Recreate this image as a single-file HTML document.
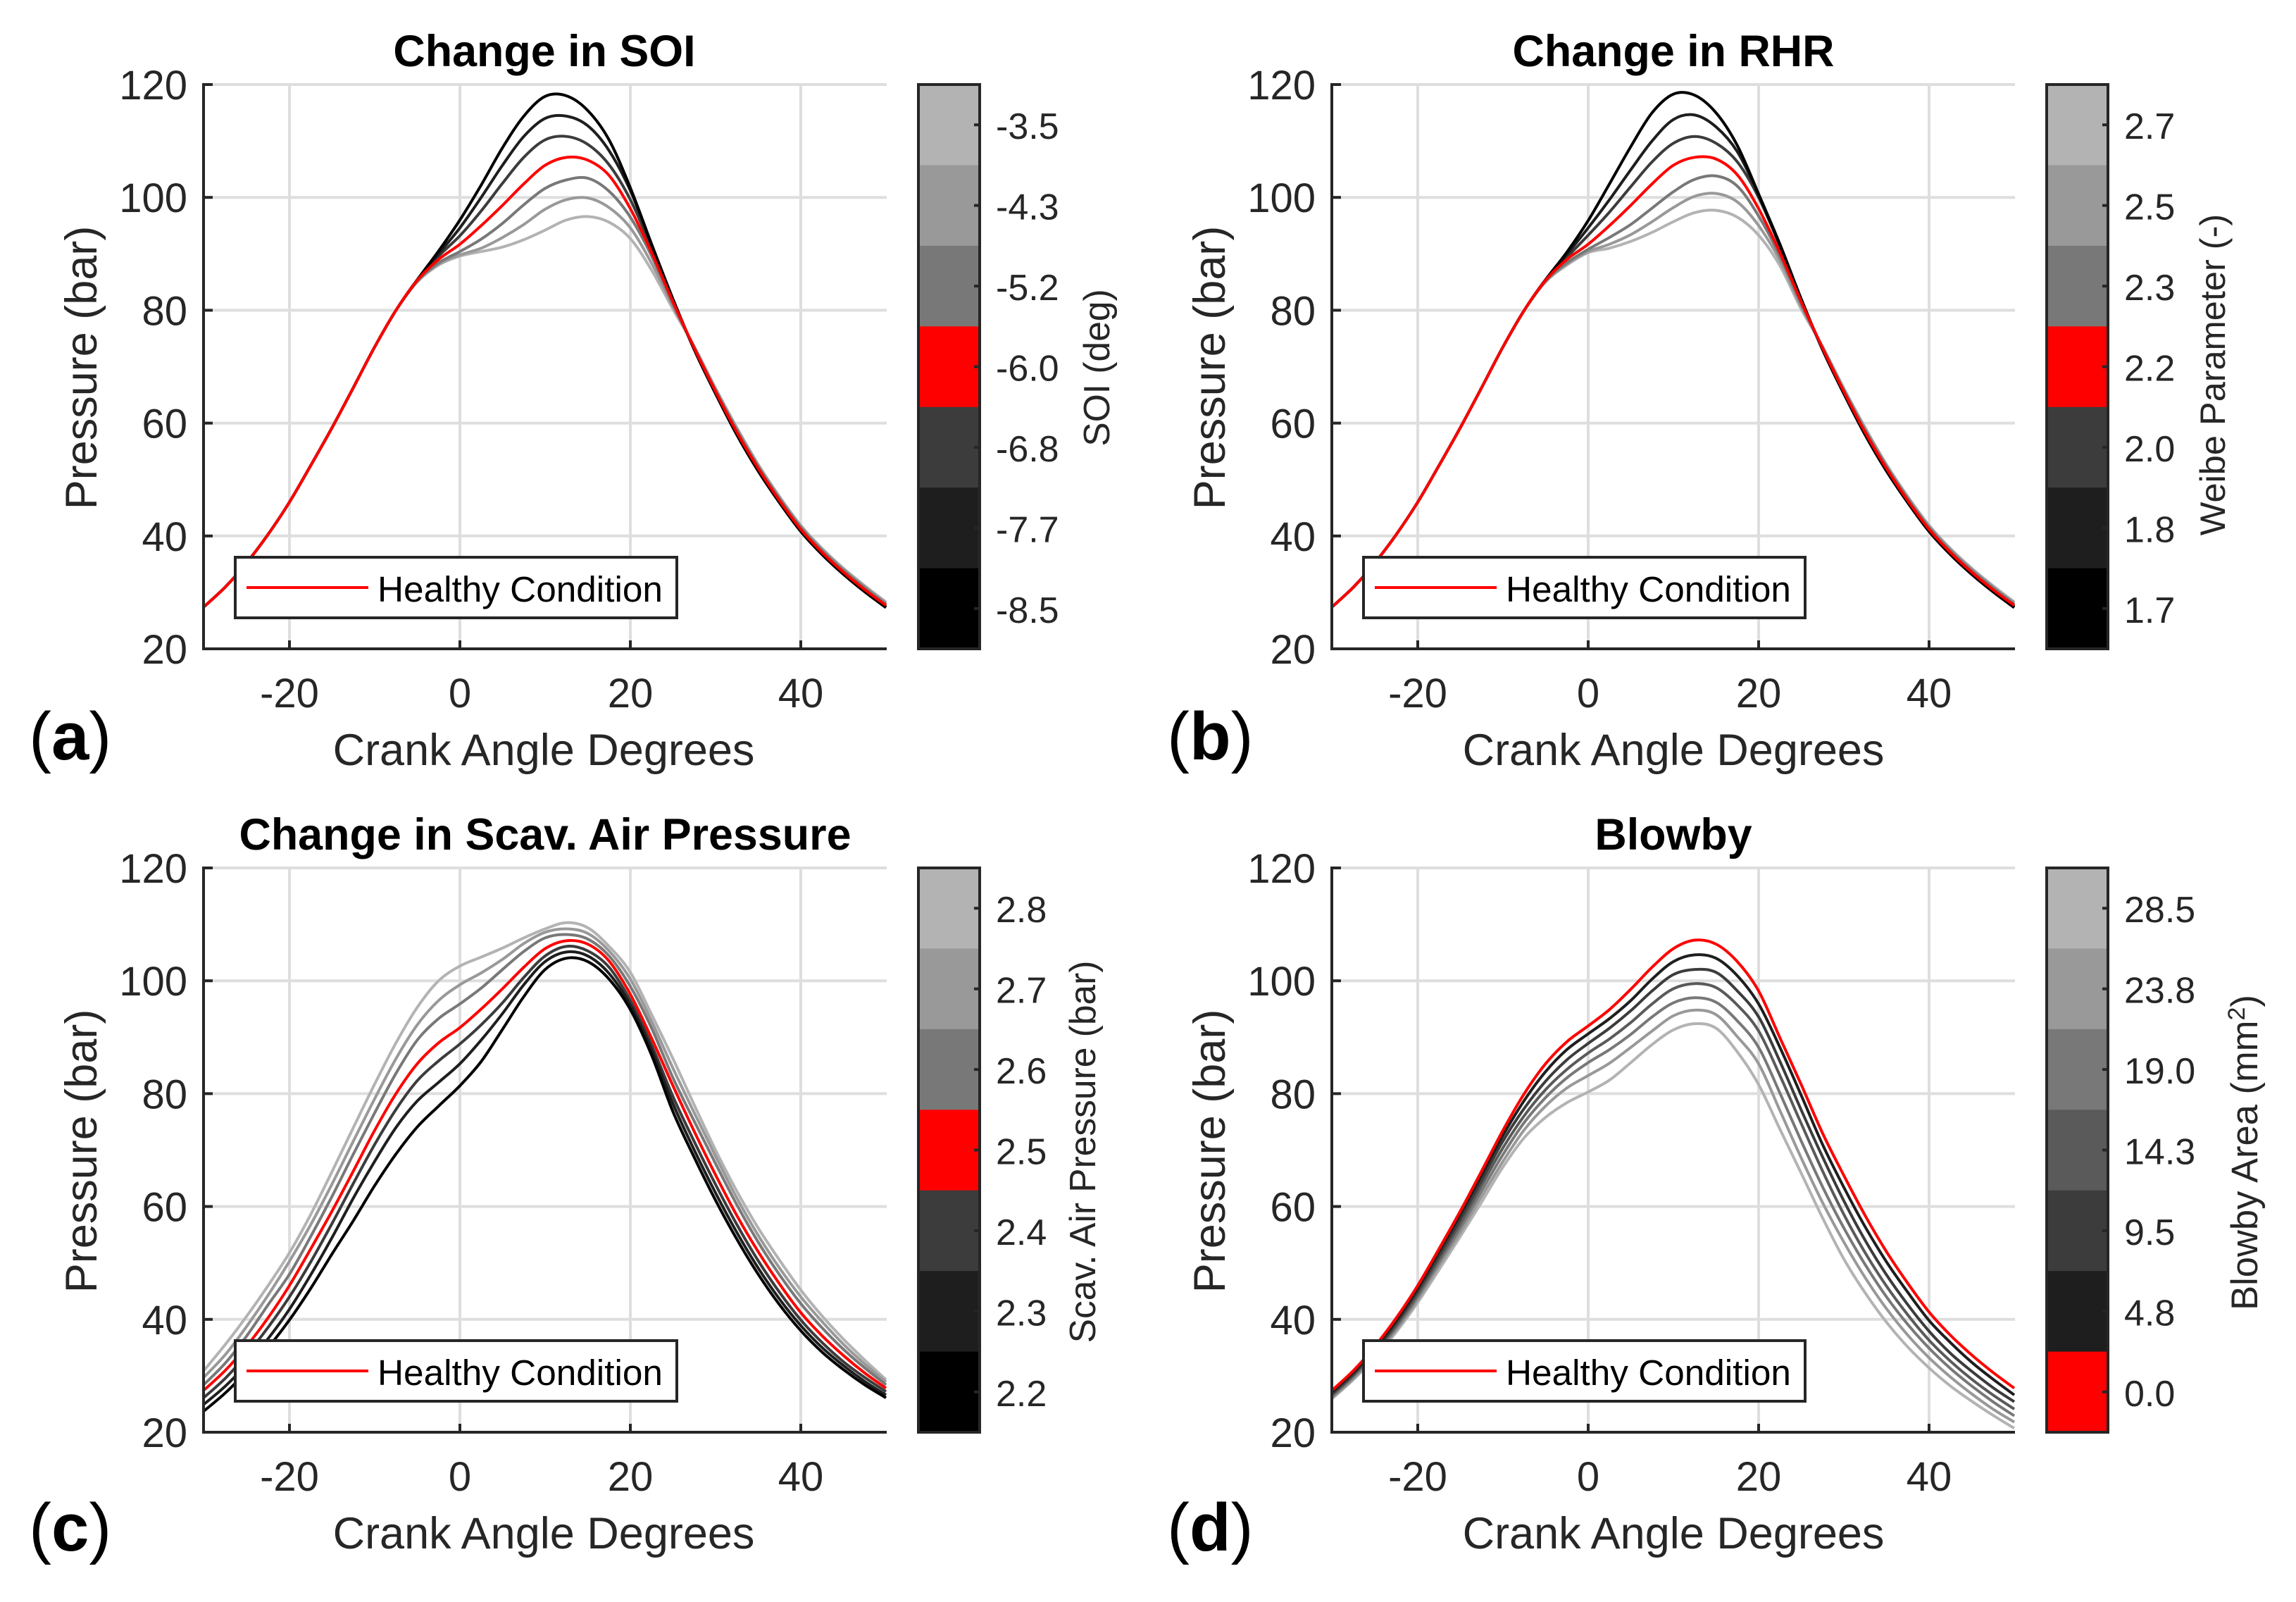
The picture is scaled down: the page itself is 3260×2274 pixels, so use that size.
<!DOCTYPE html>
<html lang="en">
<head>
<meta charset="utf-8">
<title>Pressure curves</title>
<style>
html,body{margin:0;padding:0;background:#fff;}
svg{display:block;font-family:"Liberation Sans",Arial,sans-serif;}
text{fill:#262626;}
.title{font-size:62.8px;font-weight:bold;fill:#000;text-anchor:middle;}
.axl{font-size:63px;text-anchor:middle;}
.cbl{font-size:51.5px;text-anchor:middle;}
.tick{font-size:58px;}
.cbt{font-size:52px;}
.leg{font-size:51.3px;fill:#000;}
.pl{font-size:96px;fill:#000;}
</style>
</head>
<body>
<svg id="fig" xmlns="http://www.w3.org/2000/svg" width="3260" height="2274" viewBox="0 0 3260 2274">
<rect width="3260" height="2274" fill="#fff"/>
<g id="plots"></g>

<text class="title" x="773" y="94">Change in SOI</text>
<text class="title" x="2376" y="94">Change in RHR</text>
<text class="title" x="774" y="1206">Change in Scav. Air Pressure</text>
<text class="title" x="2376" y="1206">Blowby</text>

<text class="axl" x="772" y="1086">Crank Angle Degrees</text>
<text class="axl" x="2376" y="1086">Crank Angle Degrees</text>
<text class="axl" x="772" y="2198">Crank Angle Degrees</text>
<text class="axl" x="2376" y="2198">Crank Angle Degrees</text>

<text class="axl" transform="translate(137 522) rotate(-90)">Pressure (bar)</text>
<text class="axl" transform="translate(1739 522) rotate(-90)">Pressure (bar)</text>
<text class="axl" transform="translate(137 1634) rotate(-90)">Pressure (bar)</text>
<text class="axl" transform="translate(1739 1634) rotate(-90)">Pressure (bar)</text>

<text class="cbl" transform="translate(1575 522) rotate(-90)">SOI (deg)</text>
<text class="cbl" font-size="50.5" style="font-size:50.5px" transform="translate(3159 532) rotate(-90)">Weibe Parameter (-)</text>
<text class="cbl" transform="translate(1555 1635) rotate(-90)">Scav. Air Pressure (bar)</text>
<text class="cbl" style="font-size:52.5px" transform="translate(3205 1636) rotate(-90)">Blowby Area (mm<tspan dy="-18" font-size="34">2</tspan><tspan dy="18">)</tspan></text>

<text class="pl" x="41" y="1078">(<tspan font-weight="bold">a</tspan>)</text>
<text class="pl" x="1657" y="1078">(<tspan font-weight="bold">b</tspan>)</text>
<text class="pl" x="41" y="2201">(<tspan font-weight="bold">c</tspan>)</text>
<text class="pl" x="1657" y="2201">(<tspan font-weight="bold">d</tspan>)</text>
</svg>

<script>
// ---------- shared axis data ----------
const crankAngles = [-30,-27.5,-25,-22.5,-20,-17.5,-15,-12.5,-10,-7.5,-5,-2.5,0,2.5,5,7.5,10,12.5,15,17.5,20,22.5,25,27.5,30,32.5,35,37.5,40,42.5,45,47.5,50];
const xTickValues = [-20,0,20,40];
const yTickValues = [20,40,60,80,100,120];

// ---------- panel (a): change in SOI ----------
const soiTickLabels = ["-3.5","-4.3","-5.2","-6.0","-6.8","-7.7","-8.5"];
const soiMinus35 = [27.5,31,35.3,40.3,46,52.5,59.2,66.3,73.5,80,85,88,89.6,90.4,91.2,92.5,94.2,96,96.6,95.6,92.7,87.1,80.2,73.6,66.2,59.2,52.7,47,41.9,37.8,34.3,31.2,28.3];
const soiMinus43 = [27.5,31,35.3,40.3,46,52.5,59.2,66.3,73.5,80,85.1,88.2,89.8,91,92.9,95.2,97.9,99.6,99.9,98.2,94.6,88.3,80.7,73.5,66,59,52.5,46.8,41.7,37.6,34.1,31,28.1];
const soiMinus52 = [27.5,31,35.3,40.3,46,52.5,59.2,66.3,73.5,80,85.2,88.4,90.4,92.6,95.4,98.7,101.6,103.1,103.4,101.1,96.5,89.6,81.1,73.4,65.8,58.7,52.3,46.6,41.5,37.4,33.9,30.8,27.9];
const soiMinus60 = [27.5,31,35.3,40.3,46,52.5,59.2,66.3,73.5,80,85.3,89,91.7,95,98.6,102.4,105.7,107.1,106.6,103.9,98,90.2,81.5,73.3,65.6,58.4,52,46.3,41.2,37.1,33.6,30.5,27.7];
const soiMinus68 = [27.5,31,35.3,40.3,46,52.5,59.2,66.3,73.5,80,85.4,89.6,93.2,97.6,102.5,107.1,110.2,110.8,109.4,105.8,99.6,91,81.8,73.2,65.5,58.2,51.8,46.1,41,36.9,33.4,30.3,27.5];
const soiMinus77 = [27.5,31,35.3,40.3,46,52.5,59.2,66.3,73.5,80,85.4,90,94.6,100,105.7,110.8,114,114.4,112.7,108.3,101.2,91.5,81.9,73.1,65.4,58.1,51.7,46,40.9,36.8,33.3,30.2,27.4];
const soiMinus85 = [27.5,31,35.3,40.3,46,52.5,59.2,66.3,73.5,80,85.4,90.5,96,102.2,108.8,114.4,117.9,118,115.4,110.2,101.7,91.7,82,73,65.2,57.9,51.5,45.9,40.8,36.7,33.2,30.1,27.3];

// ---------- panel (b): change in RHR ----------
const weibeTickLabels = ["2.7","2.5","2.3","2.2","2.0","1.8","1.7"];
const weibe27 = [27.5,31,35.3,40.3,46,52.5,59.2,66.3,73.5,80,85,88,90.2,91,92.2,93.8,95.7,97.3,97.7,96.5,93.3,87.9,80.2,73.6,66.2,59.2,52.7,47,41.9,37.8,34.3,31.2,28.3];
const weibe25 = [27.5,31,35.3,40.3,46,52.5,59.2,66.3,73.5,80,85.1,88.2,90.4,91.7,93.4,95.7,98.2,100.2,100.7,99.2,95,88.8,80.7,73.5,66,59,52.5,46.8,41.7,37.6,34.1,31,28.1];
const weibe23 = [27.5,31,35.3,40.3,46,52.5,59.2,66.3,73.5,80,85.2,88.4,90.8,92.9,95.2,98.1,101,103.2,103.8,102,96.7,89.6,81.1,73.4,65.8,58.7,52.3,46.6,41.5,37.4,33.9,30.8,27.9];
const weibe22 = [27.5,31,35.3,40.3,46,52.5,59.2,66.3,73.5,80,85.3,89,91.7,95,98.6,102.4,105.7,107.1,106.8,104,98,90.2,81.5,73.3,65.6,58.4,52,46.3,41.2,37.1,33.6,30.5,27.7];
const weibe20 = [27.5,31,35.3,40.3,46,52.5,59.2,66.3,73.5,80,85.4,89.4,93.3,97.4,101.9,106.3,109.6,110.8,109.6,106.3,100,91.3,81.8,73.2,65.5,58.2,51.8,46.1,41,36.9,33.4,30.3,27.5];
const weibe18 = [27.5,31,35.3,40.3,46,52.5,59.2,66.3,73.5,80,85.4,89.9,94.6,99.6,104.9,110,113.8,114.6,112.5,108.1,100.4,91.5,81.9,73.1,65.4,58.1,51.7,46,40.9,36.8,33.3,30.2,27.4];
const weibe17 = [27.5,31,35.3,40.3,46,52.5,59.2,66.3,73.5,80,85.4,90.3,95.9,102.4,109,115,118.3,118.1,115,109.2,100.6,91.7,82,73,65.2,57.9,51.5,45.9,40.8,36.7,33.2,30.1,27.3];

// ---------- panel (c): change in scavenge air pressure ----------
const scavTickLabels = ["2.8","2.7","2.6","2.5","2.4","2.3","2.2"];
const scav28 = [31,35.6,40.6,46,51.8,58.6,66.2,74,81.7,89,95.3,100,102.6,104.2,105.8,107.6,109.2,110.3,109.4,106.1,101.5,94,86.2,78,70,62.7,56.2,50.5,45.2,40.6,36.5,32.8,29.3];
const scav27 = [29.8,33.8,38.8,44.3,50.3,56.8,64,71.6,79.1,86.2,92.2,96.5,99.3,101.4,103.8,106.6,108.6,109.2,108.4,105.3,100.3,92.8,84.5,76.6,68.9,61.5,54.9,49.1,44,39.6,35.6,32.1,28.9];
const scav26 = [28.5,32.3,37.1,42.6,48,54.7,61.8,69.3,76.6,83.6,89.5,93.3,95.9,98.7,102,105.2,107.6,108.2,107.4,104.4,99,91.6,82.8,75.1,67.6,60.3,53.7,47.9,42.8,38.5,34.7,31.4,28.4];
const scav25 = [27.5,31,35.3,40.3,46,52.5,59.2,66.3,73.5,80,85.3,89,91.7,95,98.6,102.4,105.7,107.1,106.5,103.5,97.6,89.8,81.4,73.3,65.6,58.4,52,46.3,41.2,37.1,33.6,30.5,27.8];
const scav24 = [26.2,29.6,33.8,38.6,44,50.2,57,64.1,71,77.2,82.3,85.8,88.8,92.2,96.1,100.6,104.4,106.1,105.3,102.4,96.5,88.6,79.5,71.5,63.9,56.8,50.4,44.8,39.9,35.9,32.5,29.7,27.2];
const scav23 = [25,28.2,32.1,36.6,41.8,47.9,54.5,61.5,68,74,78.7,82,85.3,89.5,94.2,99.3,103.4,105.1,104.4,101.3,95.7,87.8,78.2,70,62.4,55.4,49.1,43.6,38.9,35,31.8,29,26.6];
const scav22 = [23.8,27,30.8,35,39.9,45.5,51.6,57.5,63.7,69.3,74.1,77.8,81.4,85.7,91.4,97.2,102,104,103.4,100.3,94.9,86.8,76.8,68.7,61.1,54.2,48,42.6,38,34.2,31.1,28.4,26.1];

// ---------- panel (d): blowby ----------
const blowbyTickLabels = ["28.5","23.8","19.0","14.3","9.5","4.8","0.0"];
const blowby285 = [26,29.4,33.3,37.8,43,48.8,54.7,60.8,67,72.2,75.8,78.4,80.3,82.4,85.5,88.7,91.3,92.4,91.6,87.4,81.6,73.7,65.9,58,50.7,44.7,39.5,35.1,31.4,28.2,25.5,23,20.7];
const blowby238 = [26.2,29.6,33.7,38.2,43.5,49.5,55.4,61.8,68,73.6,77.8,81,83.2,85.4,88.2,91.1,93.8,94.8,94,90.1,85.3,77,68.6,60.7,53.7,47.4,41.9,37.2,33.2,29.8,26.8,24.1,21.8];
const blowby190 = [26.4,29.9,34,38.6,44,50.1,56.2,62.8,69.2,74.9,79.3,82.8,85.5,87.8,90.5,93.6,96.1,97,96.2,92.9,88.2,80.1,71.6,63.5,56.2,49.7,44,39.1,34.9,31.3,28.2,25.4,22.9];
const blowby143 = [26.7,30.2,34.3,39,44.5,50.7,57,63.8,70.4,76.1,80.7,84.3,87.2,89.7,92.6,95.9,98.6,99.5,98.8,95.7,91.1,83.2,74.7,66.3,58.6,51.8,45.9,40.8,36.3,32.6,29.4,26.6,24.1];
const blowby95 = [26.9,30.4,34.6,39.4,45,51.3,57.8,64.7,71.6,77.4,82.2,86,88.9,91.6,94.7,98.2,101.1,102,101.5,98.2,93.6,85.7,77.1,68.8,61,54,47.9,42.6,37.9,34,30.8,27.9,25.4];
const blowby48 = [27.2,30.7,34.9,39.8,45.5,52,58.6,65.6,72.6,78.8,83.9,87.8,90.6,93.3,96.5,100.3,103.4,104.6,104,100.9,95.9,88.2,79.7,71,63.4,56.4,50.2,44.8,39.8,35.9,32.4,29.4,26.6];
const blowby00 = [27.5,31,35.3,40.3,46,52.5,59.2,66.3,73.5,80,85.3,89.2,92,94.9,98.5,102.4,105.7,107.2,106.5,103.4,98.2,89.9,81.6,73,65.5,58.4,52,46.4,41.3,37.2,33.7,30.6,27.8];

// ---------- colours (colorbar top to bottom) ----------
const greysWithRedMiddle = ["#b3b3b3","#999999","#787878","#ff0000","#3c3c3c","#1e1e1e","#000000"];
const greysWithRedBottom = ["#b3b3b3","#999999","#787878","#5a5a5a","#3c3c3c","#1e1e1e","#ff0000"];

const panels = [
  {id:"a", dx:0, dy:0, labels:soiTickLabels, colors:greysWithRedMiddle,
   series:[soiMinus35,soiMinus43,soiMinus52,soiMinus60,soiMinus68,soiMinus77,soiMinus85]},
  {id:"b", dx:1602, dy:0, labels:weibeTickLabels, colors:greysWithRedMiddle,
   series:[weibe27,weibe25,weibe23,weibe22,weibe20,weibe18,weibe17]},
  {id:"c", dx:0, dy:1112, labels:scavTickLabels, colors:greysWithRedMiddle,
   series:[scav28,scav27,scav26,scav25,scav24,scav23,scav22]},
  {id:"d", dx:1602, dy:1112, labels:blowbyTickLabels, colors:greysWithRedBottom,
   series:[blowby285,blowby238,blowby190,blowby143,blowby95,blowby48,blowby00]}
];

const NS = "http://www.w3.org/2000/svg";
const GRID = "#dedede", AXIS = "#262626";
const root = document.getElementById("plots");

function mk(tag, attrs, parent) {
  const el = document.createElementNS(NS, tag);
  for (const k in attrs) el.setAttribute(k, attrs[k]);
  parent.appendChild(el);
  return el;
}

function smoothPath(pts) {
  let d = "M" + pts[0][0].toFixed(2) + " " + pts[0][1].toFixed(2);
  for (let i = 0; i < pts.length - 1; i++) {
    const p0 = pts[Math.max(i - 1, 0)], p1 = pts[i], p2 = pts[i + 1], p3 = pts[Math.min(i + 2, pts.length - 1)];
    const c1x = p1[0] + (p2[0] - p0[0]) / 6, c1y = p1[1] + (p2[1] - p0[1]) / 6;
    const c2x = p2[0] - (p3[0] - p1[0]) / 6, c2y = p2[1] - (p3[1] - p1[1]) / 6;
    d += "C" + c1x.toFixed(2) + " " + c1y.toFixed(2) + " " + c2x.toFixed(2) + " " + c2y.toFixed(2) + " " + p2[0].toFixed(2) + " " + p2[1].toFixed(2);
  }
  return d;
}

panels.forEach(function (p) {
  const xScale = function (v) { return 290 + p.dx + (v + 30) * 12.1; };
  const yScale = function (v) { return 120 + p.dy + (120 - v) * 8.01; };
  const left = xScale(-30), right = xScale(50), top = yScale(120), bottom = yScale(20);

  const g = mk("g", {}, root);
  
  

  const clip = mk("clipPath", {id: "clip-" + p.id}, g);
  mk("rect", {x: left, y: top - 4, width: right - left + 1, height: bottom - top + 4}, clip);

  xTickValues.forEach(function (v) {
    const gl = mk("line", {x1: xScale(v), x2: xScale(v), y1: top, y2: bottom, stroke: GRID, "stroke-width": 4}, g);
    
    
  });
  yTickValues.forEach(function (v) {
    const gl = mk("line", {x1: left, x2: right + 1, y1: yScale(v), y2: yScale(v), stroke: GRID, "stroke-width": 4}, g);
    
    
  });

  // darkest drawn over lightest, red drawn last
  const order = p.series.map(function (s, i) { return i; }).filter(function (i) { return p.colors[i] !== "#ff0000"; });
  order.push(p.colors.indexOf("#ff0000"));
  const curves = mk("g", {"clip-path": "url(#clip-" + p.id + ")"}, g);
  
  
  order.forEach(function (i) {
    const pts = crankAngles.map(function (a, k) { return [xScale(a), yScale(p.series[i][k])]; });
    const c = mk("path", {d: smoothPath(pts), fill: "none", stroke: p.colors[i], "stroke-width": 4, "stroke-linejoin": "round"}, curves);
    
    
  });

  const yAxis = mk("line", {x1: left - 1, x2: left - 1, y1: top - 2, y2: bottom + 2, stroke: AXIS, "stroke-width": 4}, g);
  
  
  const xAxis = mk("line", {x1: left - 3, x2: right + 1, y1: bottom, y2: bottom, stroke: AXIS, "stroke-width": 4}, g);
  
  

  xTickValues.forEach(function (v) {
    const t = mk("line", {x1: xScale(v), x2: xScale(v), y1: bottom, y2: bottom - 12, stroke: AXIS, "stroke-width": 4}, g);
    
    
    const l = mk("text", {x: xScale(v), y: bottom + 83, "text-anchor": "middle", "class": "tick"}, g);
    l.textContent = String(v);
    
    
  });
  yTickValues.forEach(function (v) {
    const t = mk("line", {x1: left, x2: left + 12, y1: yScale(v), y2: yScale(v), stroke: AXIS, "stroke-width": 4}, g);
    
    
    const l = mk("text", {x: left - 24, y: yScale(v) + 21, "text-anchor": "end", "class": "tick"}, g);
    l.textContent = String(v);
    
    
  });

  // legend
  const legend = mk("g", {}, g);
  
  
  const lb = mk("rect", {x: 334 + p.dx, y: 791 + p.dy, width: 627, height: 86, fill: "#fff", stroke: AXIS, "stroke-width": 4}, legend);
  
  
  const ll = mk("line", {x1: 350 + p.dx, x2: 523 + p.dx, y1: 834 + p.dy, y2: 834 + p.dy, stroke: "#ff0000", "stroke-width": 4}, legend);
  
  
  const lt = mk("text", {x: 536 + p.dx, y: 854 + p.dy, "class": "leg"}, legend);
  lt.textContent = "Healthy Condition";
  
  

  // colorbar
  const cbX = 1304 + p.dx, cbW = 87, segH = (bottom - top) / p.colors.length;
  const cb = mk("g", {}, g);
  
  
  p.colors.forEach(function (col, i) {
    const r = mk("rect", {x: cbX, y: top + i * segH, width: cbW, height: segH + 0.5, fill: col}, cb);
    
    
  });
  const f = mk("rect", {x: cbX, y: top, width: cbW, height: bottom - top, fill: "none", stroke: AXIS, "stroke-width": 4}, cb);
  
  
  p.labels.forEach(function (lab, i) {
    const yy = top + (i + 0.5) * segH;
    const t = mk("line", {x1: cbX + cbW, x2: cbX + cbW - 8, y1: yy, y2: yy, stroke: AXIS, "stroke-width": 4}, cb);
    
    
    const l = mk("text", {x: cbX + 110, y: yy + 20, "class": "cbt"}, cb);
    l.textContent = lab;
    
    
  });
});
</script>
</body>
</html>
